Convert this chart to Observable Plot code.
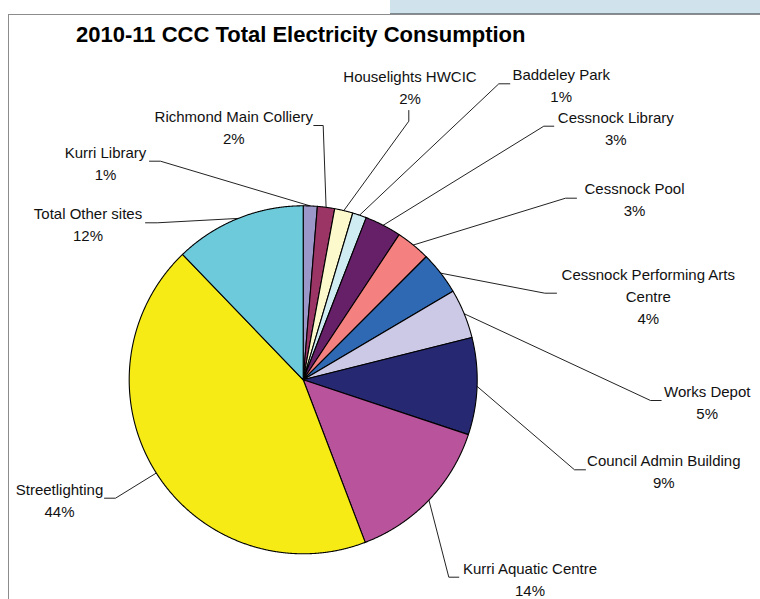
<!DOCTYPE html>
<html>
<head>
<meta charset="utf-8">
<script src="https://cdn.jsdelivr.net/npm/d3@7"></script>
<script src="https://cdn.jsdelivr.net/npm/@observablehq/plot@0.6"></script>
<style>
  html, body { margin: 0; padding: 0; background: #fff; }
  #wrap { position: relative; width: 760px; height: 599px; overflow: hidden; font-family: "Liberation Sans", Arial, sans-serif; }
  #band { position: absolute; left: 390px; top: 0; width: 370px; height: 13px; background: #d0e2eb; border-bottom: 1px solid #7d8a92; }
  #frame { position: absolute; left: 8px; top: 14px; width: 900px; height: 800px; border-left: 1px solid #8c8c8c; border-top: 1px solid #8c8c8c; }
  #title { position: absolute; left: 76px; top: 24px; font-weight: bold; font-size: 22px; line-height: 22px; color: #000; white-space: nowrap; }
  #chart { position: absolute; left: 0; top: 0; }
</style>
</head>
<body>
<div id="wrap">
  <div id="band"></div>
  <div id="frame"></div>
  <div id="title">2010-11 CCC Total Electricity Consumption</div>
  <div id="chart"></div>
</div>
<script>
// ---- data (clockwise from 12 o'clock) ----
const sites = [
  "Kurri Library",
  "Richmond Main Colliery",
  "Houselights HWCIC",
  "Baddeley Park",
  "Cessnock Library",
  "Cessnock Pool",
  "Cessnock Performing Arts Centre",
  "Works Depot",
  "Council Admin Building",
  "Kurri Aquatic Centre",
  "Streetlighting",
  "Total Other sites"
];
const shares = [1.3, 1.6, 1.7, 1.3, 3.4, 3.2, 4.0, 4.6, 9.0, 14.1, 43.6, 12.2];
const colors = [
  "#9b97c9", "#9b3566", "#fcf9cc", "#d0ecf3", "#652068", "#f58080",
  "#2f69b3", "#ccc9e6", "#262872", "#b9539b", "#f6eb14", "#6ccadb"
];

// ---- layout (pixel positions of labels / leader elbows) ----
const pie = { cx: 302.7, cy: 379.3, r: 174 };
const labelLayout = [
  { tx: 105,   ty: 161.7, p0: [149, 160.7],   p1: [160, 160.7] },
  { tx: 233.3, ty: 125.8, p0: [313.3, 125],   p1: [322.7, 125] },
  { tx: 409.5, ty: 85.8,  p0: [408.3, 110],   p1: [408.3, 120.7] },
  { tx: 560.7, ty: 83.8,  p0: [509.3, 83.3],  p1: [498.3, 83.3] },
  { tx: 615.3, ty: 126.3, p0: [553.3, 125.7], p1: [543.3, 125.7] },
  { tx: 634,   ty: 197.3, p0: [576, 197.7],   p1: [565, 197.7] },
  { tx: 647.8, ty: 294.3, p0: [556, 292.7],   p1: [544.3, 292.7], name: "Cessnock Performing Arts\nCentre" },
  { tx: 706.7, ty: 400.5, p0: [660.7, 400],   p1: [650, 400] },
  { tx: 663.3, ty: 469.7, p0: [585, 469.3],   p1: [574, 469.3] },
  { tx: 529.5, ty: 577.5, p0: [458.3, 576.7], p1: [448.3, 576.7] },
  { tx: 59,    ty: 498.3, p0: [104, 497.7],   p1: [115, 497.7] },
  { tx: 87.5,  ty: 222.8, p0: [145, 222.3],   p1: [156.7, 222.3] }
];

// ---- derived geometry ----
const total = d3.sum(shares);
const arcs = d3.pie().sort(null).value(d => d)(shares);
const pt = a => ({ x: pie.cx + pie.r * Math.sin(a), y: pie.cy - pie.r * Math.cos(a) });

const poly = [];
arcs.forEach((a, i) => {
  const site = sites[i];
  poly.push({ site, x: pie.cx, y: pie.cy });
  const n = Math.max(2, Math.ceil((a.endAngle - a.startAngle) / 0.004));
  for (let k = 0; k <= n; k++) {
    const t = a.startAngle + (a.endAngle - a.startAngle) * k / n;
    poly.push({ site, ...pt(t) });
  }
  poly.push({ site, x: pie.cx, y: pie.cy });
});

const leaders = [];
const labels = [];
arcs.forEach((a, i) => {
  const L = labelLayout[i];
  const site = sites[i];
  const mid = pt((a.startAngle + a.endAngle) / 2);
  leaders.push({ site, x: L.p0[0], y: L.p0[1] });
  leaders.push({ site, x: L.p1[0], y: L.p1[1] });
  leaders.push({ site, x: mid.x, y: mid.y });
  const pct = Math.round(shares[i] / total * 100);
  labels.push({ site, x: L.tx, y: L.ty, text: `${L.name ?? site}\n${pct}%` });
});

const chart = Plot.plot({
  width: 760,
  height: 599,
  margin: 0,
  x: { domain: [0, 760], range: [0, 760], axis: null },
  y: { domain: [0, 599], range: [0, 599], axis: null },
  color: { domain: sites, range: colors },
  style: { background: "transparent", fontFamily: "'Liberation Sans', Arial, sans-serif" },
  marks: [
    Plot.line(leaders, { x: "x", y: "y", z: "site", stroke: "#222", strokeWidth: 1, curve: "linear" }),
    Plot.line(poly, { x: "x", y: "y", z: "site", fill: "site", stroke: "#000", strokeWidth: 1.1, strokeLinejoin: "round", curve: "linear" }),
    Plot.text(labels, { x: "x", y: "y", text: "text", fontSize: 15, lineHeight: 1.45, textAnchor: "middle", fill: "#111" })
  ]
});
document.getElementById("chart").appendChild(chart);
</script>
</body>
</html>
